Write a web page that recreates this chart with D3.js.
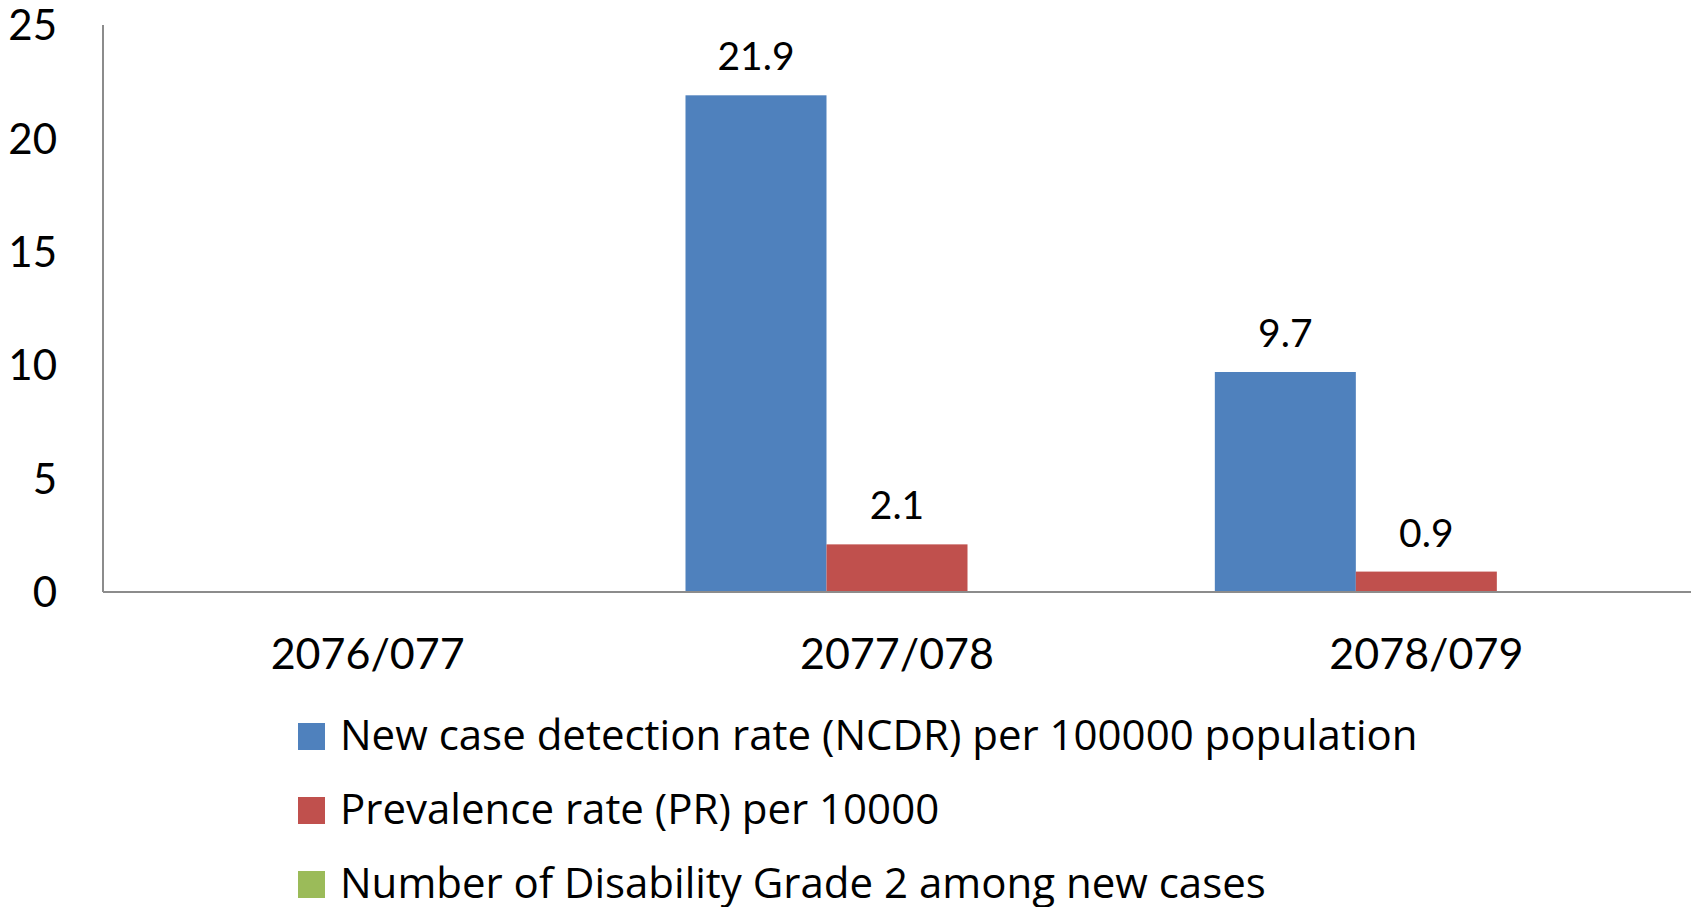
<!DOCTYPE html>
<html lang="en">
<head>
  <meta charset="UTF-8">
  <title>NCDR and PR</title>
  <style>
    body { margin: 0; background: #fff; }
    svg text { font-family: Lato, "Open Sans", sans-serif; fill: #000; }
    svg .legend text { font-family: "Open Sans", Lato, sans-serif; }
  </style>
</head>
<body>
  <div id="chart"></div>
  <script src="https://cdn.jsdelivr.net/npm/d3@7"></script>
  <script>
    // data
    const categories = ['2076/077', '2077/078', '2078/079'];
    const seriesNames = [
      'New case detection rate (NCDR) per 100000 population',
      'Prevalence rate (PR) per 10000',
      'Number of Disability Grade 2 among new cases'
    ];
    const ncdr = [null, 21.9, 9.7];
    const pr = [null, 2.1, 0.9];
    const disability = [null, null, null];
    const yTicks = [0, 5, 10, 15, 20, 25];
    const colors = ['#4F81BD', '#C0504D', '#9BBB59'];

    const seriesValues = [ncdr, pr, disability];

    const width = 1696, height = 907;
    const margin = { left: 103, right: 1691, top: 25, bottom: 592 };

    const svg = d3.select('#chart').append('svg')
      .attr('width', width)
      .attr('height', height);

    const x0 = d3.scaleBand()
      .domain(categories)
      .range([margin.left, margin.right])
      .padding(0);

    const x1 = d3.scaleBand()
      .domain(seriesNames)
      .range([0, x0.bandwidth()])
      .paddingInner(0)
      .paddingOuter(0.377);

    const y = d3.scaleLinear()
      .domain([0, 25])
      .range([margin.bottom, margin.top]);

    // y tick labels (no tick marks in the original)
    svg.append('g')
      .selectAll('text')
      .data(yTicks)
      .join('text')
      .attr('x', 57)
      .attr('y', d => y(d))
      .attr('dy', '0.36em')
      .attr('text-anchor', 'end')
      .style('font-size', '42px')
      .text(d => d);

    // bars
    const groups = svg.append('g')
      .selectAll('g')
      .data(categories)
      .join('g')
      .attr('transform', d => `translate(${x0(d)},0)`);

    const rows = (c, i) => seriesNames
      .map((s, k) => ({ s, k, v: seriesValues[k][i] }))
      .filter(d => d.v != null);

    groups.selectAll('rect')
      .data(rows)
      .join('rect')
      .attr('x', d => x1(d.s))
      .attr('width', x1.bandwidth())
      .attr('y', d => y(d.v))
      .attr('height', d => y(0) - y(d.v))
      .attr('fill', d => colors[d.k]);

    groups.selectAll('text.val')
      .data(rows)
      .join('text')
      .attr('class', 'val')
      .attr('x', d => x1(d.s) + x1.bandwidth() / 2)
      .attr('y', d => y(d.v) - 25)
      .attr('text-anchor', 'middle')
      .style('font-size', '39px')
      .text(d => d.v.toFixed(1));

    // axis lines
    svg.append('line')
      .attr('x1', margin.left).attr('x2', margin.left)
      .attr('y1', margin.top).attr('y2', margin.bottom)
      .attr('stroke', '#8c8c8c').attr('stroke-width', 2);

    svg.append('line')
      .attr('x1', margin.left).attr('x2', margin.right)
      .attr('y1', margin.bottom).attr('y2', margin.bottom)
      .attr('stroke', '#8c8c8c').attr('stroke-width', 2);

    // category labels
    svg.append('g')
      .selectAll('text')
      .data(categories)
      .join('text')
      .attr('x', d => x0(d) + x0.bandwidth() / 2)
      .attr('y', 669)
      .attr('text-anchor', 'middle')
      .style('font-size', '43px')
      .text(d => d);

    // legend
    const legend = svg.append('g')
      .attr('class', 'legend')
      .selectAll('g')
      .data(seriesNames)
      .join('g')
      .attr('transform', (d, i) => `translate(298,${723 + i * 74})`);

    legend.append('rect')
      .attr('width', 27)
      .attr('height', 27)
      .attr('fill', (d, i) => colors[i]);

    legend.append('text')
      .attr('x', 42)
      .attr('y', 27)
      .style('font-size', '42px')
      .text(d => d);
  </script>
</body>
</html>
